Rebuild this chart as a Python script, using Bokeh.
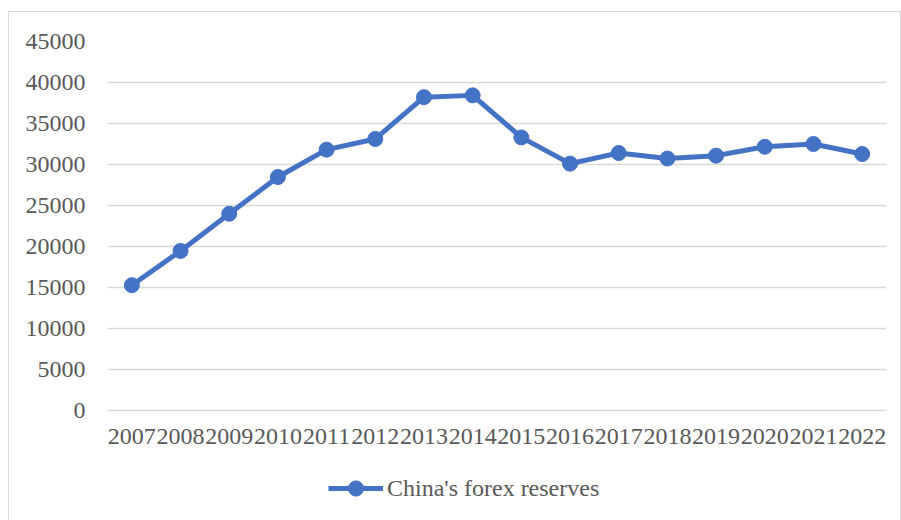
from bokeh.plotting import figure
from bokeh.layouts import column
from bokeh.models import ColumnDataSource, FactorRange, Range1d, FixedTicker, Legend, LegendItem
from bokeh.embed import file_html
from bokeh.resources import INLINE

years = ["2007", "2008", "2009", "2010", "2011", "2012", "2013", "2014",
         "2015", "2016", "2017", "2018", "2019", "2020", "2021", "2022"]
reserves = [15282, 19460, 23992, 28473, 31811, 33116, 38213, 38430,
            33304, 30105, 31399, 30727, 31079, 32165, 32502, 31277]
y_ticks = [0, 5000, 10000, 15000, 20000, 25000, 30000, 35000, 40000, 45000]
series_name = "China's forex reserves"

BLUE = "#4472C4"
TXT = "#595959"
GRID = "#d9d9d9"
FONT = "Liberation Serif"

src = ColumnDataSource(dict(x=years, y=reserves))

p = figure(x_range=FactorRange(*years), y_range=Range1d(0, 45000),
           width=891, height=448, output_backend="svg", toolbar_location=None,
           min_border_left=98, min_border_right=14, min_border_top=29, min_border_bottom=50)
p.outline_line_color = None
p.background_fill_color = "white"
p.border_fill_color = "white"

r_line = p.line("x", "y", source=src, line_color=BLUE, line_width=5)
r_pts = p.scatter("x", "y", source=src, size=15, fill_color=BLUE, line_color=BLUE)

p.yaxis.ticker = FixedTicker(ticks=y_ticks)
p.yaxis.axis_line_color = None
p.yaxis.major_tick_line_color = None
p.yaxis.minor_tick_line_color = None
p.yaxis.major_label_text_font = FONT
p.yaxis.major_label_text_font_size = "24px"
p.yaxis.major_label_text_color = TXT
p.yaxis.major_label_standoff = 16

p.xaxis.axis_line_color = GRID
p.xaxis.axis_line_width = 1.5
p.xaxis.major_tick_line_color = None
p.xaxis.minor_tick_line_color = None
p.xaxis.major_label_text_font = FONT
p.xaxis.major_label_text_font_size = "24px"
p.xaxis.major_label_text_color = TXT
p.xaxis.major_label_standoff = 12

p.xgrid.grid_line_color = None
p.ygrid.grid_line_color = GRID
p.ygrid.grid_line_width = 1.5

# legend strip below the chart (its renderers share the data but sit out of view)
lg = figure(width=891, height=62, x_range=FactorRange(*years), y_range=Range1d(-2, -1),
            output_backend="svg", toolbar_location=None,
            x_axis_location=None, y_axis_location=None,
            min_border_left=0, min_border_right=0, min_border_top=0, min_border_bottom=0)
lg.grid.visible = False
lg.outline_line_color = None
lg.border_fill_color = "white"
lg.background_fill_color = "white"
k_line = lg.line("x", "y", source=src, line_color=BLUE, line_width=5)
k_pts = lg.scatter("x", "y", source=src, size=15, fill_color=BLUE, line_color=BLUE)

legend = Legend(items=[LegendItem(label=series_name, renderers=[k_line, k_pts])],
                orientation="horizontal", location=(221, 15),
                label_text_font=FONT, label_text_font_size="24px",
                label_text_color=TXT, glyph_width=55, glyph_height=38,
                border_line_color=None, background_fill_alpha=0,
                margin=0, padding=4, label_standoff=4)
lg.add_layout(legend, "center")

layout = column(p, lg, spacing=0)
layout.styles = {"border": "1px solid #d9d9d9", "margin-left": "8px", "margin-top": "11px"}

open("out.html", "w").write(file_html(layout, INLINE))
